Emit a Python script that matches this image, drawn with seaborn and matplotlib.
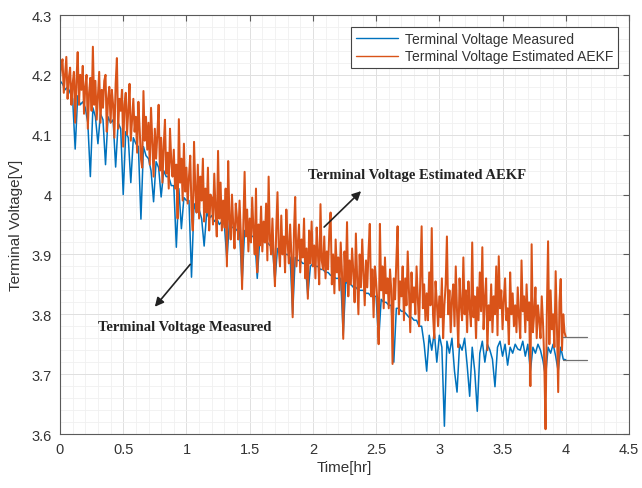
import numpy as np
import pandas as pd
import matplotlib
matplotlib.use("Agg")
import matplotlib.pyplot as plt
import seaborn as sns
from matplotlib.ticker import MultipleLocator

# ---- data (mV) ----
est_step_hr = 0.01
est_mv = [
    4195, 4215, 4226, 4170, 4200, 4230, 4160, 4195, 4212, 4150,
    4185, 4205, 4120, 4190, 4238, 4150, 4200, 4175, 4215, 4135,
    4180, 4200, 4110, 4170, 4195, 4140, 4247, 4150, 4190, 4125,
    4165, 4205, 4120, 4175, 4145, 4190, 4200, 4105, 4160, 4180,
    4120, 4175, 4150, 4095, 4185, 4228, 4110, 4160, 4140, 4175,
    4080, 4150, 4170, 4100, 4140, 4185, 4090, 4125, 4160, 4105,
    4130, 4070, 4155, 4110, 4060, 4045, 4173, 4090, 4130, 4075,
    4120, 4050, 4145, 4085, 4030, 4110, 4060, 4100, 4150, 4040,
    4095, 4020, 4080, 4125, 4035, 4070, 4010, 4110, 4055, 4030,
    4075, 4010, 4050, 3960, 4126, 4020, 4060, 3990, 4085, 4005,
    4045, 3985, 4030, 4065, 3975, 3940, 4088, 4010, 3970, 4050,
    3960, 4030, 3990, 4060, 3955, 4010, 3970, 4045, 3940, 4000,
    3995, 3950, 4035, 3975, 3930, 4073, 3960, 4020, 3940, 3990,
    3945, 4010, 3880, 4056, 3960, 3925, 4000, 3950, 3910, 3985,
    3960, 3925, 3990, 3935, 3842, 3950, 4038, 3930, 3975, 3905,
    3960, 3920, 3995, 3940, 3900, 4010, 3870, 3950, 3915, 3980,
    3905, 3955, 3920, 3985, 3890, 4030, 3925, 3900, 3960, 3895,
    3847, 3940, 4004, 3910, 3880, 3965, 3900, 3930, 3870, 3975,
    3920, 3885, 3950, 3900, 3795, 3935, 3996, 3880, 3915, 3950,
    3870, 3925, 3895, 3960, 3860, 3910, 3826, 3940, 3885, 3955,
    3880, 3915, 3860, 3945, 3900, 3850, 3984, 3890, 3875, 3930,
    3860, 3905, 3875, 3940, 3970, 3850, 3900, 3835, 3925, 3870,
    3895, 3840, 3920, 3870, 3759, 3905, 3855, 3954, 3830, 3890,
    3850, 3910, 3870, 3820, 3935, 3860, 3800, 3900, 3845, 3925,
    3870, 3815, 3890, 3845, 3905, 3951, 3830, 3875, 3795, 3880,
    3855, 3820, 3750, 3951, 3840, 3880, 3810, 3895, 3835, 3860,
    3810, 3875, 3840, 3717, 3860, 3825, 3890, 3947, 3800, 3855,
    3830, 3880, 3790, 3860, 3815, 3905, 3835, 3770, 3870, 3820,
    3845, 3800, 3880, 3825, 3780, 3860, 3947, 3810, 3850, 3790,
    3835, 3790, 3870, 3815, 3944, 3800, 3760, 3855, 3820, 3780,
    3830, 3795, 3860, 3760, 3815, 3850, 3930, 3800, 3840, 3770,
    3825, 3850, 3780, 3880, 3805, 3745, 3860, 3815, 3790, 3895,
    3800, 3840, 3770, 3855, 3810, 3780, 3920, 3795, 3830, 3760,
    3845, 3790, 3870, 3805, 3912, 3775, 3825, 3860, 3740, 3815,
    3790, 3850, 3770, 3830, 3800, 3880, 3765, 3897, 3810, 3840,
    3775, 3825, 3860, 3790, 3810, 3750, 3870, 3800, 3835, 3780,
    3815, 3770, 3845, 3795, 3760, 3890, 3805, 3830, 3770, 3850,
    3790, 3820, 3680, 3917, 3770, 3800, 3845, 3760, 3815, 3790,
    3760, 3830, 3785, 3720, 3608, 3800, 3922, 3750, 3840, 3775,
    3800, 3745, 3872, 3780, 3670, 3820, 3859, 3740, 3800, 3770,
    3762,
]

meas_step_hr = 0.02
meas_mv = [
    4190, 4185, 4175, 4180, 4170, 4160, 4076, 4165, 4150, 4155,
    4145, 4120, 4030, 4145, 4130, 4085, 4135, 4125, 4050, 4130,
    4120, 4125, 4046, 4120, 4110, 4000, 4105, 4095, 4020, 4095,
    4085, 4080, 3959, 4080, 4065, 4060, 4040, 3988, 4055, 4045,
    3996, 4040, 4030, 4030, 4015, 4015, 3912, 4010, 3943, 3995,
    3990, 3990, 3862, 3985, 3970, 3975, 3960, 3914, 3970, 3960,
    3965, 3955, 3960, 3950, 3955, 3950, 3890, 3955, 3945, 3945,
    3940, 3940, 3850, 3940, 3935, 3935, 3930, 3930, 3860, 3925,
    3925, 3920, 3920, 3915, 3915, 3855, 3910, 3905, 3905, 3900,
    3900, 3895, 3800, 3895, 3890, 3890, 3885, 3885, 3830, 3880,
    3885, 3880, 3880, 3875, 3875, 3870, 3870, 3865, 3865, 3860,
    3860, 3860, 3765, 3855, 3850, 3850, 3845, 3845, 3840, 3840,
    3840, 3835, 3835, 3830, 3830, 3830, 3755, 3825, 3820, 3820,
    3815, 3815, 3720, 3810, 3810, 3805, 3805, 3800, 3795, 3795,
    3790, 3790, 3780, 3780, 3750, 3705, 3765, 3740, 3770, 3720,
    3765, 3745, 3613, 3755, 3735, 3760, 3705, 3670, 3750, 3740,
    3760, 3715, 3663, 3745, 3705, 3638, 3735, 3755, 3720, 3750,
    3740, 3725, 3679, 3745, 3755, 3730, 3750, 3715, 3745, 3735,
    3750, 3742, 3740, 3755, 3730, 3750, 3705, 3745, 3735, 3750,
    3740, 3722, 3695, 3745, 3735, 3750, 3730, 3705, 3745, 3725,
    3724,
]

labels = ["Terminal Voltage Measured", "Terminal Voltage Estimated AEKF"]
x_ticks = [0, 0.5, 1, 1.5, 2, 2.5, 3, 3.5, 4, 4.5]
y_ticks = [3.6, 3.7, 3.8, 3.9, 4.0, 4.1, 4.2, 4.3]
y_tick_labels = ["3.6", "3.7", "3.8", "3.9", "4", "4.1", "4.2", "4.3"]

meas_df = pd.DataFrame({
    "t": np.arange(len(meas_mv)) * meas_step_hr,
    "v": np.array(meas_mv) / 1000.0,
})
est_df = pd.DataFrame({
    "t": np.arange(len(est_mv)) * est_step_hr,
    "v": np.array(est_mv) / 1000.0,
})

sns.set_style("white")
plt.rcParams["font.family"] = ["Liberation Sans", "DejaVu Sans"]

fig = plt.figure(figsize=(6.42, 4.89), dpi=100)
ax = fig.add_axes([60 / 642, 54 / 489, 569 / 642, 419 / 489])

blue = "#0072BD"
orange = "#D95319"

sns.lineplot(data=meas_df, x="t", y="v", ax=ax, color=blue, lw=1.1,
             estimator=None, sort=False, label=labels[0])
sns.lineplot(data=est_df, x="t", y="v", ax=ax, color=orange, lw=1.45,
             estimator=None, sort=False, label=labels[1])

# short gray leader lines at the end values
ax.plot([3.98, 4.17], [est_mv[-1] / 1000.0] * 2, color="#707070", lw=0.9)
ax.plot([3.98, 4.17], [meas_mv[-1] / 1000.0] * 2, color="#707070", lw=0.9)

ax.set_xlim(0, 4.5)
ax.set_ylim(3.6, 4.3)
ax.set_xticks(x_ticks)
ax.set_xticklabels([f"{v:g}" for v in x_ticks])
ax.set_yticks(y_ticks)
ax.set_yticklabels(y_tick_labels)
ax.xaxis.set_minor_locator(MultipleLocator(0.1))
ax.yaxis.set_minor_locator(MultipleLocator(0.02))

ax.grid(True, which="major", color="#e0e0e0", lw=0.7)
ax.grid(True, which="minor", color="#f0f0f0", lw=0.6)
ax.set_axisbelow(True)

for s in ax.spines.values():
    s.set_color("#5a5a5a")
    s.set_linewidth(0.8)
    s.set_visible(True)

ax.tick_params(axis="both", which="major", direction="in", length=4,
               top=True, right=True, labelsize=10.5, colors="#5a5a5a",
               labelcolor="#333333", pad=6)
ax.tick_params(axis="both", which="minor", length=0)

ax.set_xlabel("Time[hr]", fontsize=11, color="#333333", labelpad=3)
ax.set_ylabel("Terminal Voltage[V]", fontsize=11, color="#333333", labelpad=6)

leg = ax.legend(loc="upper right", bbox_to_anchor=(0.981, 0.971),
                borderaxespad=0.0,
                fontsize=10, frameon=True, fancybox=False, framealpha=1,
                edgecolor="#444444", borderpad=0.35, handlelength=3.0,
                labelspacing=0.25, handletextpad=0.5)
leg.get_frame().set_linewidth(0.8)
for line in leg.get_lines():
    line.set_linewidth(1.0)
for t in leg.get_texts():
    t.set_color("#333333")

ann_font = dict(fontsize=10.5, fontweight="bold",
                family=["Liberation Serif", "DejaVu Serif"], color="#222222")
ax.annotate("", xy=(2.397, 4.009), xytext=(2.073, 3.9425),
            arrowprops=dict(arrowstyle="-|>", color="#222222", lw=1.2,
                            mutation_scale=13))
ax.text(2.82, 4.034, "Terminal Voltage Estimated AEKF", ha="center",
        va="center", **ann_font)
ax.annotate("", xy=(0.736, 3.809), xytext=(1.044, 3.887),
            arrowprops=dict(arrowstyle="-|>", color="#222222", lw=1.2,
                            mutation_scale=13))
ax.text(0.985, 3.779, "Terminal Voltage Measured", ha="center",
        va="center", **ann_font)

fig.savefig("out.png", dpi=100)
